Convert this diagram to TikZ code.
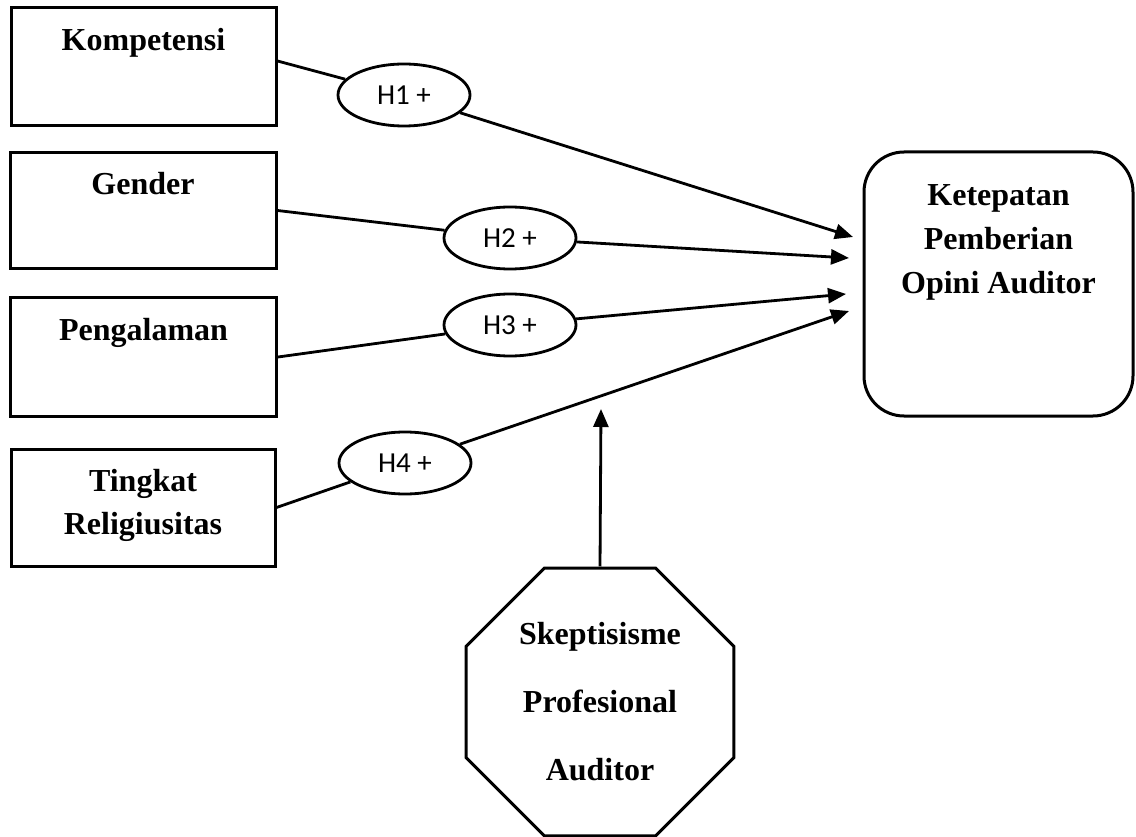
\documentclass[tikz,border=0pt]{standalone}
\usepackage{fontspec}
\setmainfont{Liberation Serif}
\newfontfamily\hypfont{Carlito}
\usetikzlibrary{arrows.meta}
\usetikzlibrary{shapes.geometric}

\tikzset{
  varbox/.style={draw, line width=3pt, rectangle, inner sep=0pt},
  varlab/.style={anchor=north, yshift=-18pt, align=center, font=\fontsize{32}{43}\selectfont\bfseries},
  hypo/.style={draw, line width=2.8pt, ellipse, minimum width=132pt, minimum height=62pt, inner sep=0pt, font=\hypfont\fontsize{29}{30}\selectfont},
  link/.style={line width=2.8pt},
  arr/.style={line width=2.8pt, -{Triangle[length=18pt, width=15pt]}}
}

\begin{document}
\begin{tikzpicture}[x=1pt, y=-1pt]

\useasboundingbox (0,0) rectangle (1136,837);

%% Independent variables %%
\node[varbox, minimum width=265pt, minimum height=118pt, label={[varlab]north:Kompetensi}] (komp) at (143.5,67) {};
\node[varbox, minimum width=266pt, minimum height=116pt, label={[varlab]north:Gender}] (gend) at (143,210.5) {};
\node[varbox, minimum width=266pt, minimum height=118pt, label={[varlab]north:Pengalaman}] (peng) at (143.5,357) {};
\node[varbox, minimum width=264pt, minimum height=117pt, label={[varlab]north:Tingkat\\Religiusitas}] (ting) at (143,507.5) {};

%% Dependent variable %%
\node[varbox, rounded corners=40pt, minimum width=269pt, minimum height=264pt,
      label={[varlab, yshift=-13pt]north:Ketepatan\\[1pt]Pemberian\\[1pt]Opini Auditor}] (kpo) at (998.5,284) {};

%% Moderating variable %%
\node[draw, line width=3pt, regular polygon, regular polygon sides=8, minimum size=290pt, inner sep=0pt,
      align=center, font=\fontsize{32}{68}\selectfont\bfseries] (skep) at (600,702) {Skeptisisme\\Profesional\\Auditor};

%% Hypotheses %%
\node[hypo] (h1) at (404,95) {H1 +};
\node[hypo] (h2) at (510,238) {H2 +};
\node[hypo] (h3) at (510,325) {H3 +};
\node[hypo] (h4) at (405,463) {H4 +};

% arrow tips in front of the target %
\coordinate (t1) at (853,237);
\coordinate (t2) at (849,258);
\coordinate (t3) at (846,294);
\coordinate (t4) at (849,311);
\coordinate (tm) at (601,409);

%% Connections %%
% box to hypothesis %
\draw[link] ([yshift=6pt]komp.east) -- (h1);
\draw[link] (gend.east) -- (h2);
\draw[link] (peng.east) -- (h3);
\draw[link] (ting.east) -- (h4);

% hypothesis to target %
\draw[arr] (h1) -- (t1);
\draw[arr] (h2) -- (t2);
\draw[arr] (h3) -- (t3);
\draw[arr] (h4) -- (t4);

% moderation %
\draw[arr] (skep.north) -- (tm);

\end{tikzpicture}
\end{document}
